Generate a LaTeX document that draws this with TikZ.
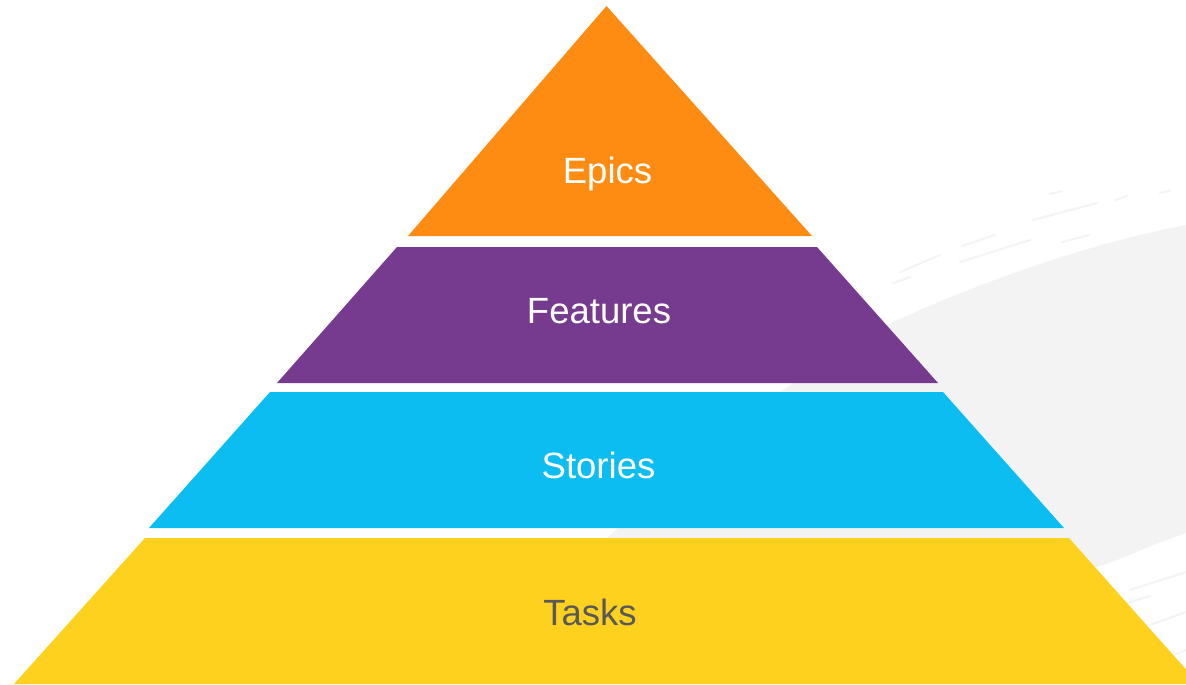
\documentclass[tikz,border=0pt]{standalone}
\usepackage{fontspec}
\setmainfont{Liberation Sans}
\definecolor{cOrange}{RGB}{254,140,18}
\definecolor{cPurple}{RGB}{118,58,143}
\definecolor{cBlue}{RGB}{11,189,240}
\definecolor{cYellow}{RGB}{254,209,30}
\definecolor{cText}{RGB}{89,89,89}
\definecolor{bgGray}{RGB}{243,243,243}
\definecolor{streak}{RGB}{244,244,244}
\begin{document}
\begin{tikzpicture}[x=1pt,y=-1pt,
  lbl/.style={anchor=base,font=\fontsize{36.5}{40}\selectfont,text=white,inner sep=0pt},
  streakline/.style={draw=streak,line width=2pt,line cap=round}]
\useasboundingbox (0,0) rectangle (1186,685);
\clip (0,0) rectangle (1186,685);
\fill[white] (0,0) rectangle (1186,685);
% background brush stroke
\fill[bgGray] (600,545) .. controls (700,450) and (800,370) .. (883,327)
  .. controls (960,290) and (1080,245) .. (1186,225) -- (1186,533)
  .. controls (1150,545) and (1120,560) .. (1097,567)
  .. controls (900,560) and (700,550) .. (600,545) -- cycle;
% streaks
\draw[streakline] (1033,220) -- (1097,203);
\draw[streakline] (1050,194) -- (1062,191);
\draw[streakline] (962,246) -- (995,235);
\draw[streakline] (1062,242) -- (1089,235);
\draw[streakline] (1115,200) -- (1127,196);
\draw[streakline] (1160,193) -- (1170,191);
\draw[streakline] (900,272) -- (940,255);
\draw[streakline] (960,262) -- (1030,240);
\draw[streakline] (893,283) -- (910,277);
\draw[streakline] (1130,590) -- (1186,572);
\draw[streakline] (1150,625) -- (1186,612);
\draw[streakline] (1160,660) -- (1186,650);
\draw[streakline] (1110,608) -- (1150,596);
% pyramid layers
\fill[cOrange] (606.5,6) -- (812,236) -- (408,236) -- cycle;
\fill[cPurple] (397,247) -- (817,247) -- (938,383) -- (277,383) -- cycle;
\fill[cBlue] (270,392) -- (943,392) -- (1064,528) -- (149,528) -- cycle;
\fill[cYellow] (145,538) -- (1069,538) -- (1199,684) -- (14,684) -- cycle;
% labels
\node[lbl] (epics) at (607.5,183) {Epics};
\node[lbl] (features) at (599,323) {Features};
\node[lbl] (stories) at (598.5,478) {Stories};
\node[lbl,text=cText] (tasks) at (590,625) {Tasks};
\end{tikzpicture}
\end{document}
